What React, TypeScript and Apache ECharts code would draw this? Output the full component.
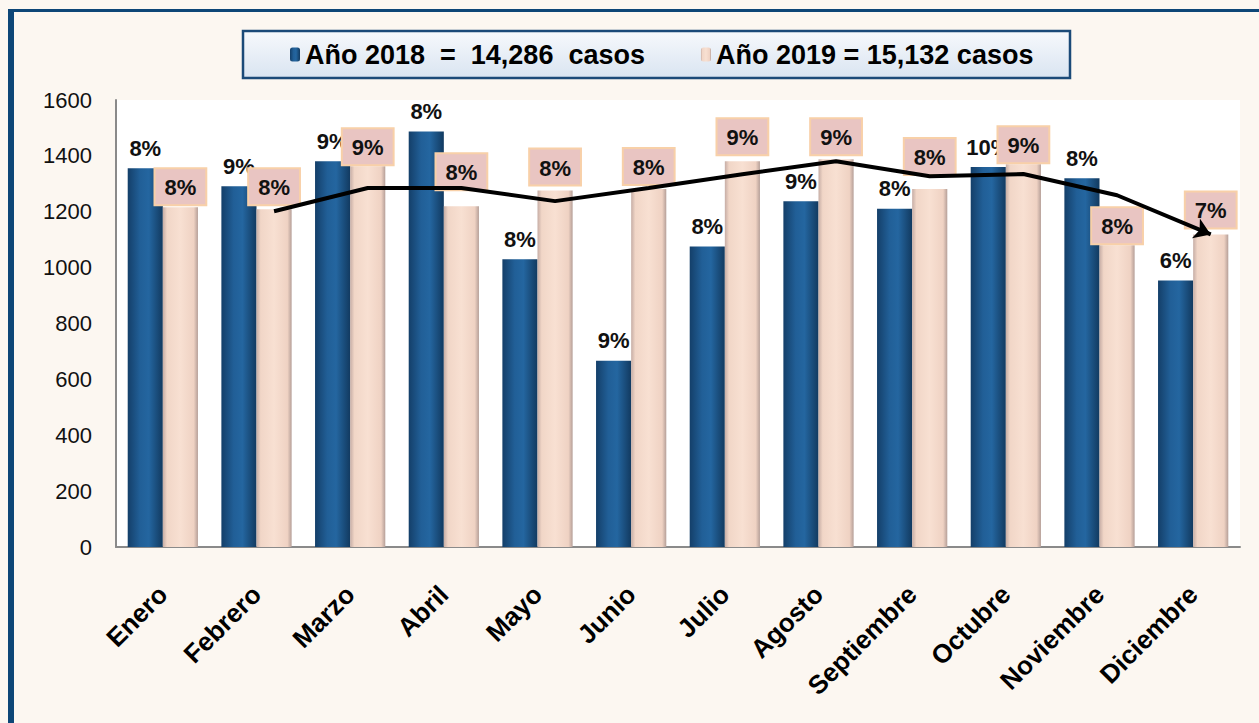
import React, { useEffect, useRef } from "react";
import * as echarts from "echarts";

const months = ["Enero", "Febrero", "Marzo", "Abril", "Mayo", "Junio", "Julio", "Agosto", "Septiembre", "Octubre", "Noviembre", "Diciembre"];
const seriesNames = ["Año 2018  =  14,286  casos", "Año 2019 = 15,132 casos"];
const cases2018 = [1356, 1291, 1381, 1487, 1030, 667, 1076, 1238, 1211, 1360, 1320, 954];
const cases2019 = [1216, 1209, 1363, 1220, 1276, 1281, 1381, 1388, 1281, 1370, 1080, 1119];
const pct2018 = ["8%", "9%", "9%", "8%", "8%", "9%", "8%", "9%", "8%", "10%", "8%", "6%"];
const pct2019 = ["8%", "8%", "9%", "8%", "8%", "8%", "9%", "9%", "8%", "9%", "8%", "7%"];
// 2-period moving-average trend line of 2019 (starts at Febrero)
const trend2019: (number | null)[] = [null, 1202, 1285, 1285, 1238, 1285, 1334, 1381, 1327, 1335, 1259, 1119];
const yTicks = { min: 0, max: 1600, interval: 200 };

// layout: gap (px) between each 2019 label box and its bar, as placed in the original
const pinkLabelGap = [3, 5, 2, 17, 6, 5, 7, 5, 15, 2, 2, 7];

const FONT = "'Liberation Sans', Arial, sans-serif";

export default function App() {
  const ref = useRef<HTMLDivElement>(null);
  useEffect(() => {
    document.body.style.margin = "0";
    document.body.style.background = "#fcf7f1";
    const chart = echarts.init(ref.current!, null, { renderer: "svg" });
    const pinkOffset = 0.1875; // pink bar centre relative to category centre
    const trendData = trend2019
      .map((v, i) => (v == null ? null : [i + pinkOffset, v]))
      .filter((d) => d != null)
      .map((d, i, arr) =>
        i === arr.length - 1
          ? { value: d, symbol: "arrow", symbolSize: [16, 16], symbolRotate: -112 }
          : { value: d, symbol: "none" }
      );
    const blueGrad = new echarts.graphic.LinearGradient(0, 0, 1, 0, [
      { offset: 0, color: "#143f69" },
      { offset: 0.35, color: "#215f97" },
      { offset: 0.6, color: "#2466a0" },
      { offset: 1, color: "#123a60" },
    ]);
    const pinkGrad = new echarts.graphic.LinearGradient(0, 0, 1, 0, [
      { offset: 0, color: "#c6ada5" },
      { offset: 0.12, color: "#f1d6c7" },
      { offset: 0.5, color: "#f8e0d2" },
      { offset: 0.88, color: "#efd2c3" },
      { offset: 1, color: "#b59f98" },
    ]);
    chart.setOption({
      animation: false,
      backgroundColor: "#fcf7f1",
      textStyle: { fontFamily: FONT },
      graphic: [
        { type: "rect", shape: { x: 8, y: 9, width: 1251, height: 3 }, style: { fill: "#0d4677" }, silent: true },
        { type: "rect", shape: { x: 8, y: 9, width: 6, height: 714 }, style: { fill: "#0d4677" }, silent: true },
        {
          type: "rect",
          shape: { x: 243, y: 31, width: 827, height: 47 },
          style: {
            fill: new echarts.graphic.LinearGradient(0, 0, 0, 1, [
              { offset: 0, color: "#f7f9fc" },
              { offset: 1, color: "#d9e4f1" },
            ]),
            stroke: "#1b4a78",
            lineWidth: 2.5,
          },
          z: -1,
          silent: true,
        },
      ],
      legend: {
        data: seriesNames,
        left: 290,
        top: 41,
        padding: 0,
        itemGap: 56,
        itemWidth: 10,
        itemHeight: 14,
        itemStyle: { borderWidth: 0 },
        textStyle: { fontSize: 27, fontWeight: "bold", color: "#000", fontFamily: FONT },
      },
      grid: { left: 116, right: 19, top: 100, bottom: 176, show: true, backgroundColor: "#ffffff", borderWidth: 0 },
      xAxis: [
        {
          type: "category",
          data: months,
          axisLine: { lineStyle: { color: "#8a8a8a", width: 2 } },
          axisTick: { show: false },
          axisLabel: { rotate: 45, margin: 43, fontSize: 26, fontWeight: "bold", color: "#000", interval: 0 },
        },
        { type: "value", min: -0.5, max: 11.5, show: false },
      ],
      yAxis: {
        type: "value",
        min: yTicks.min,
        max: yTicks.max,
        interval: yTicks.interval,
        axisLine: { show: true, onZero: false, lineStyle: { color: "#8a8a8a", width: 2 } },
        axisTick: { show: false },
        splitLine: { show: false },
        axisLabel: { fontSize: 22, color: "#111", margin: 24, formatter: (v: number) => String(v) },
      },
      series: [
        {
          name: seriesNames[0],
          type: "bar",
          data: cases2018,
          barGap: "0%",
          barCategoryGap: "25%",
          itemStyle: { color: blueGrad },
          label: {
            show: true,
            position: "top",
            distance: 9,
            fontSize: 22,
            fontWeight: "bold",
            color: "#111",
            formatter: (p: any) => pct2018[p.dataIndex],
          },
        },
        {
          name: seriesNames[1],
          type: "bar",
          data: cases2019.map((v, i) => ({ value: v, label: { distance: pinkLabelGap[i] } })),
          itemStyle: { color: pinkGrad },
          label: {
            show: true,
            position: "top",
            fontSize: 22,
            fontWeight: "bold",
            color: "#111",
            backgroundColor: "#e9c5c2",
            borderColor: "#f8d0a8",
            borderWidth: 2,
            lineHeight: 25,
            padding: [6, 9, 4, 9],
            formatter: (p: any) => pct2019[p.dataIndex],
          },
        },
        {
          name: "Tendencia",
          type: "line",
          xAxisIndex: 1,
          data: trendData,
          lineStyle: { color: "#000", width: 4 },
          itemStyle: { color: "#000" },
          symbol: "none",
          z: 5,
        },
      ],
    });
    return () => chart.dispose();
  }, []);
  return <div ref={ref} style={{ width: 1259, height: 723 }} />;
}
